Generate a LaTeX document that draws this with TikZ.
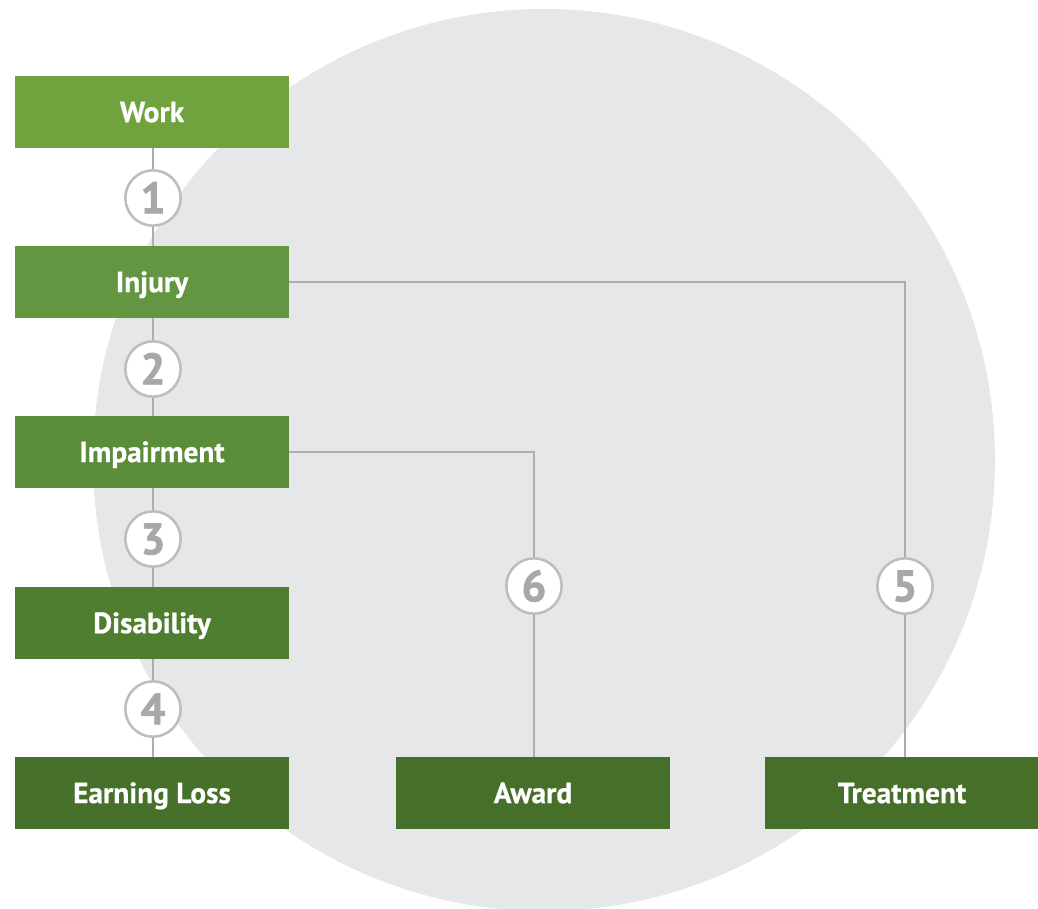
\documentclass[tikz,border=0pt]{standalone}
\usepackage{fontspec}
\setmainfont{PT Sans}
\newfontfamily\labelfont[FakeBold=0.6]{PT Sans Bold}
\newfontfamily\digitfont[FakeBold=1.5]{PT Sans Bold}
\begin{document}
\begin{tikzpicture}[x=0.75pt,y=-0.75pt,
  stage/.style={rectangle,minimum width=205.5pt,minimum height=54pt,inner sep=0pt,
    text height=15.2pt,text depth=0pt,
    text=white,font=\labelfont\fontsize{22}{26}\selectfont},
  num/.style={circle,draw=ringgray,line width=1.9pt,fill=white,minimum size=41.5pt,inner sep=0pt,
    text height=23pt,text depth=0pt,
    text=numgray,font=\digitfont\fontsize{33}{33}\selectfont},
  link/.style={draw=linegray,line width=1.9pt}]
\definecolor{disc}{HTML}{E6E7E9}
\definecolor{linegray}{HTML}{ADADAF}
\definecolor{ringgray}{HTML}{BDBDBF}
\definecolor{numgray}{HTML}{A8A8AA}
\definecolor{gWork}{HTML}{70A33E}
\definecolor{gInjury}{HTML}{629640}
\definecolor{gImp}{HTML}{5B8C3A}
\definecolor{gDis}{HTML}{4F7E30}
\definecolor{gLoss}{HTML}{47712B}
\definecolor{gOut}{HTML}{466F29}
\useasboundingbox (0,0) rectangle (1038,908);
\begin{scope}
\clip (0,0) rectangle (1038,908);
\fill[disc] (544,460) circle[radius=451];
\end{scope}
% main chain
\node[stage,fill=gWork]   (work)   at (152,112) {Work};
\node[stage,fill=gInjury] (injury) at (152,282) {Injury};
\node[stage,fill=gImp]    (imp)    at (152,452) {Impairment};
\node[stage,fill=gDis]    (dis)    at (152,623) {Disability};
\node[stage,fill=gLoss]   (loss)   at (152,793) {Earning Loss};
\node[stage,fill=gOut]    (award)  at (533,793) {Award};
\node[stage,fill=gOut]    (treat)  at (902,793) {Treatment};
% step markers
\coordinate (c1p) at (153,198);
\coordinate (c2p) at (153,369);
\coordinate (c3p) at (153,539);
\coordinate (c4p) at (153,709);
\coordinate (c6p) at (534,586);
\coordinate (c5p) at (905,586);
% connectors
\draw[link] (work.south -| c1p) -- (c1p) -- (injury.north -| c1p);
\draw[link] (injury.south -| c2p) -- (c2p) -- (imp.north -| c2p);
\draw[link] (imp.south -| c3p) -- (c3p) -- (dis.north -| c3p);
\draw[link] (dis.south -| c4p) -- (c4p) -- (loss.north -| c4p);
\draw[link] (injury.east) -| (c5p) -- (treat.north -| c5p);
\draw[link] (imp.east) -| (c6p) -- (award.north -| c6p);
\node[num] (c1) at (c1p) {1};
\node[num] (c2) at (c2p) {2};
\node[num] (c3) at (c3p) {3};
\node[num] (c4) at (c4p) {4};
\node[num] (c6) at (c6p) {6};
\node[num] (c5) at (c5p) {5};
\end{tikzpicture}
\end{document}
